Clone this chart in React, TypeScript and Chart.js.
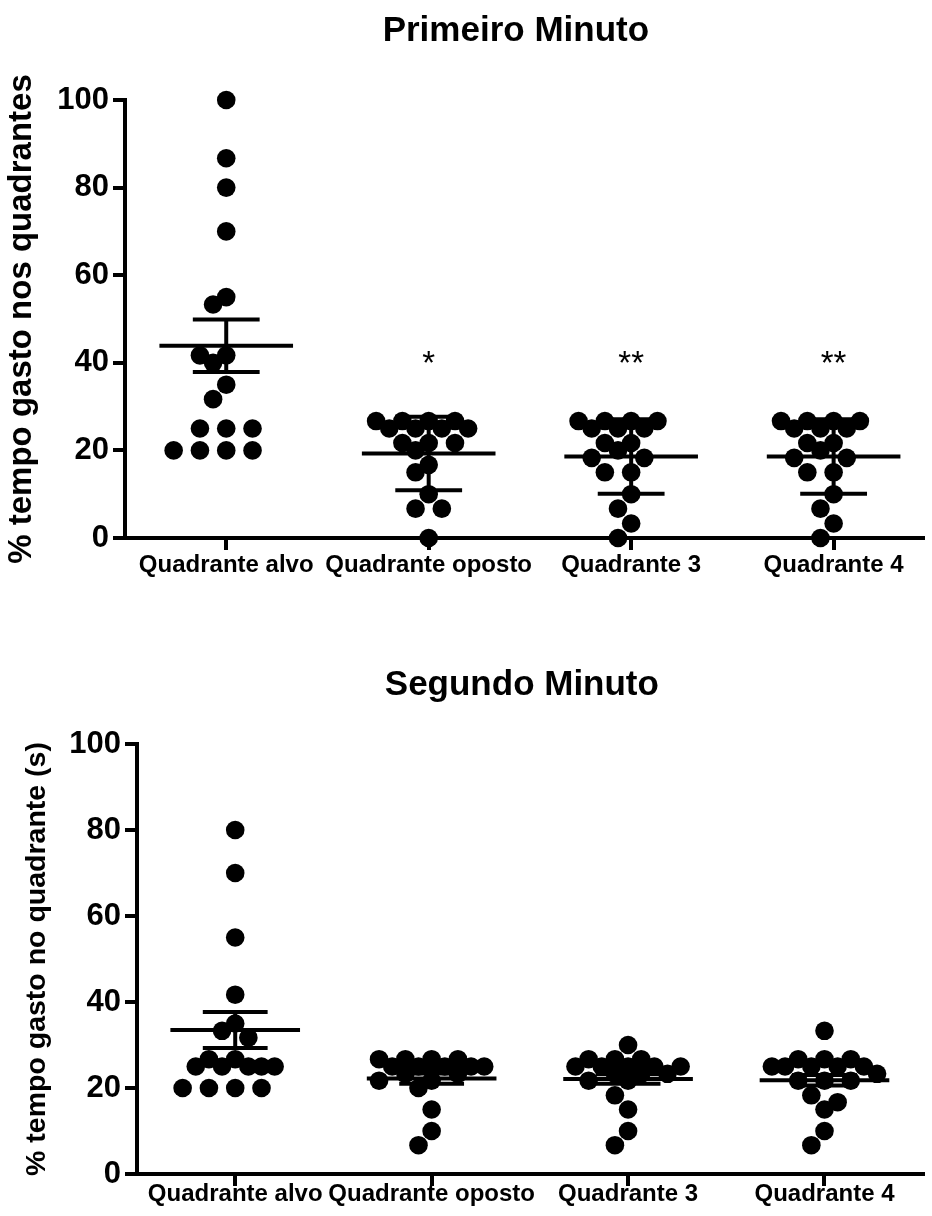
import React, { useEffect, useRef } from 'react';
import { Chart, registerables } from 'chart.js';

Chart.register(...registerables);

// ---------- data ----------
const CATEGORIES = ['Quadrante alvo', 'Quadrante oposto', 'Quadrante 3', 'Quadrante 4'];
const Y_TICKS = [0, 20, 40, 60, 80, 100];

// Primeiro minuto (% tempo gasto nos quadrantes)
const FIRST_ALVO = [100, 86.7, 80, 70, 55, 53.3, 41.7, 41.7, 40, 35, 31.7, 25, 25, 25, 20, 20, 20, 20];
const FIRST_OPOSTO = [26.7, 26.7, 26.7, 26.7, 25, 25, 25, 25, 21.7, 21.7, 21.7, 20, 16.7, 15, 10, 6.7, 6.7, 0];
const FIRST_Q3 = [26.7, 26.7, 26.7, 26.7, 25, 25, 25, 21.7, 21.7, 20, 18.3, 18.3, 15, 15, 10, 6.7, 3.3, 0];
const FIRST_Q4 = [26.7, 26.7, 26.7, 26.7, 25, 25, 25, 21.7, 21.7, 20, 18.3, 18.3, 15, 15, 10, 6.7, 3.3, 0];
const FIRST_MEAN = [43.9, 19.3, 18.6, 18.6];
const FIRST_ERR = [6.0, 8.4, 8.5, 8.5];
const FIRST_MARKS = ['', '*', '**', '**'];
const FIRST_MARK_Y = 41.7;

// Segundo minuto (% tempo gasto no quadrante (s))
const SECOND_ALVO = [80, 70, 55, 41.7, 35, 33.3, 31.7, 26.7, 26.7, 25, 25, 25, 25, 25, 20, 20, 20, 20];
const SECOND_OPOSTO = [26.7, 26.7, 26.7, 26.7, 25, 25, 25, 25, 25, 25, 23.3, 23.3, 21.7, 21.7, 20, 15, 10, 6.7];
const SECOND_Q3 = [30, 26.7, 26.7, 26.7, 25, 25, 25, 25, 25, 23.3, 23.3, 23.3, 21.7, 21.7, 18.3, 15, 10, 6.7];
const SECOND_Q4 = [33.3, 26.7, 26.7, 26.7, 25, 25, 25, 25, 25, 23.3, 21.7, 21.7, 21.7, 18.3, 16.7, 15, 10, 6.7];
const SECOND_MEAN = [33.5, 22.2, 22.1, 21.8];
const SECOND_ERR = [4.2, 1.2, 1.1, 1.2];

const FONT = '"Liberation Sans", Arial, sans-serif';

type Panel = {
  title: string;
  yTitle: string;
  groups: number[][];
  means: number[];
  errs: number[];
  marks: string[];
  markY: number;
  width: number;
  height: number;
  padTop: number;
  yAxisWidth: number;
  xAxisHeight: number;
  xMax: number;
  titleY: number;
  yTitleSize: number;
  yTitlePad: number;
  xLabelPad: number;
};

const PANELS: Panel[] = [
  {
    title: 'Primeiro Minuto',
    yTitle: '% tempo gasto nos quadrantes',
    groups: [FIRST_ALVO, FIRST_OPOSTO, FIRST_Q3, FIRST_Q4],
    means: FIRST_MEAN,
    errs: FIRST_ERR,
    marks: FIRST_MARKS,
    markY: FIRST_MARK_Y,
    width: 932,
    height: 600,
    padTop: 100,
    yAxisWidth: 125,
    xAxisHeight: 62,
    xMax: 3.44,
    titleY: 31,
    yTitleSize: 33,
    yTitlePad: 2,
    xLabelPad: 1,
  },
  {
    title: 'Segundo Minuto',
    yTitle: '% tempo gasto no quadrante (s)',
    groups: [SECOND_ALVO, SECOND_OPOSTO, SECOND_Q3, SECOND_Q4],
    means: SECOND_MEAN,
    errs: SECOND_ERR,
    marks: ['', '', '', ''],
    markY: 0,
    width: 932,
    height: 616,
    padTop: 144,
    yAxisWidth: 137,
    xAxisHeight: 42,
    xMax: 3.5,
    titleY: 85,
    yTitleSize: 28.5,
    yTitlePad: 20,
    xLabelPad: -6,
  },
];

// simple beeswarm: place each dot (largest value first) at the free lane closest to the centre;
// when the +-4 lanes are all crowded, take the lane with the most room
function swarmOffsets(values: number[], pxPerValue: number, pxPerCat: number): number[] {
  const lane = 13.3;
  const minDist = 15;
  const maxStep = 4;
  const order = values.map((_, i) => i).sort((a, b) => values[b] - values[a]);
  const placed: { x: number; y: number }[] = [];
  const res = new Array(values.length).fill(0);
  for (const i of order) {
    const y = values[i] * pxPerValue;
    let best = 0;
    let bestRoom = -1;
    let chosen: number | null = null;
    for (let k = 0; k <= maxStep * 2; k++) {
      const step = Math.ceil(k / 2) * (k % 2 === 1 ? -1 : 1);
      const x = step * lane;
      const room = placed.reduce((m, p) => Math.min(m, Math.hypot(p.x - x, p.y - y)), Infinity);
      if (room >= minDist) {
        chosen = x;
        break;
      }
      if (room > bestRoom + 0.5) {
        bestRoom = room;
        best = x;
      }
    }
    const x = chosen === null ? best : chosen;
    placed.push({ x, y });
    res[i] = x / pxPerCat;
  }
  return res;
}

const overlayPlugin = {
  id: 'overlay',
  afterDatasetsDraw(chart: any, _args: any, opts: any) {
    const { ctx, chartArea } = chart;
    const x = chart.scales.x;
    const y = chart.scales.y;
    ctx.save();
    ctx.strokeStyle = '#000';
    ctx.lineWidth = 4;
    ctx.lineCap = 'butt';
    const line = (x0: number, y0: number, x1: number, y1: number) => {
      ctx.beginPath();
      ctx.moveTo(x0, y0);
      ctx.lineTo(x1, y1);
      ctx.stroke();
    };
    (opts.means as number[]).forEach((m, i) => {
      const e = opts.errs[i];
      const yc = y.getPixelForValue(m);
      const yt = y.getPixelForValue(m + e);
      const yb = y.getPixelForValue(m - e);
      const xc = x.getPixelForValue(i);
      line(x.getPixelForValue(i - 0.33), yc, x.getPixelForValue(i + 0.33), yc);
      line(x.getPixelForValue(i - 0.165), yt, x.getPixelForValue(i + 0.165), yt);
      line(x.getPixelForValue(i - 0.165), yb, x.getPixelForValue(i + 0.165), yb);
      line(xc, yt, xc, yb);
    });
    // significance marks
    ctx.fillStyle = '#000';
    ctx.textAlign = 'center';
    ctx.textBaseline = 'alphabetic';
    const ms = 33;
    ctx.font = `${ms}px ${FONT}`;
    (opts.marks as string[]).forEach((t, i) => {
      if (!t) return;
      ctx.fillText(t, x.getPixelForValue(i), y.getPixelForValue(opts.markY) + 0.55 * ms);
    });
    // title
    ctx.font = `bold 35px ${FONT}`;
    ctx.textBaseline = 'middle';
    ctx.fillText(opts.title, (chartArea.left + chartArea.right) / 2 - 8, opts.titleY);
    ctx.restore();
  },
};

function PanelChart({ panel }: { panel: Panel }) {
  const ref = useRef<HTMLCanvasElement | null>(null);
  useEffect(() => {
    if (!ref.current) return;
    const plotH = panel.height - panel.padTop - panel.xAxisHeight;
    const plotW = panel.width - panel.yAxisWidth;
    const pxPerValue = plotH / 100;
    const pxPerCat = plotW / (panel.xMax + 0.5);
    const points = panel.groups.flatMap((vals, gi) => {
      const offs = swarmOffsets(vals, pxPerValue, pxPerCat);
      return vals.map((v, j) => ({ x: gi + offs[j], y: v }));
    });
    const gridOpts = {
      display: true,
      drawOnChartArea: false,
      drawTicks: true,
      tickLength: 12,
      tickWidth: 4,
      tickColor: '#000',
      color: '#000',
      lineWidth: 4,
    };
    const borderOpts = { display: true, width: 4, color: '#000' };
    const chart = new Chart(ref.current, {
      type: 'scatter',
      data: {
        datasets: [
          {
            data: points,
            pointRadius: 9.3,
            pointHoverRadius: 9.3,
            pointBackgroundColor: '#000',
            pointBorderColor: '#000',
            pointBorderWidth: 0,
            clip: false as any,
          },
        ],
      },
      options: {
        responsive: false,
        maintainAspectRatio: false,
        animation: false,
        events: [],
        layout: { padding: { top: panel.padTop, left: 0, right: 0, bottom: 0 } },
        plugins: {
          legend: { display: false },
          tooltip: { enabled: false },
          title: { display: false },
          overlay: {
            means: panel.means,
            errs: panel.errs,
            marks: panel.marks,
            markY: panel.markY,
            title: panel.title,
            titleY: panel.titleY,
          },
        } as any,
        scales: {
          x: {
            type: 'linear',
            min: -0.5,
            max: panel.xMax,
            afterBuildTicks: (s: any) => {
              s.ticks = CATEGORIES.map((_, i) => ({ value: i }));
            },
            afterFit: (s: any) => {
              s.height = panel.xAxisHeight;
            },
            ticks: {
              autoSkip: false,
              maxRotation: 0,
              minRotation: 0,
              padding: panel.xLabelPad,
              color: '#000',
              font: { family: FONT, size: 24, weight: 'bold' },
              callback: (_v: any, i: number) => CATEGORIES[i],
            },
            grid: gridOpts,
            border: borderOpts,
          },
          y: {
            type: 'linear',
            min: 0,
            max: 100,
            afterBuildTicks: (s: any) => {
              s.ticks = Y_TICKS.map((v) => ({ value: v }));
            },
            afterFit: (s: any) => {
              s.width = panel.yAxisWidth;
            },
            ticks: {
              padding: 4,
              color: '#000',
              font: { family: FONT, size: 31, weight: 'bold' },
              callback: (v: any) => String(v),
            },
            grid: gridOpts,
            border: borderOpts,
            title: {
              display: true,
              text: panel.yTitle,
              color: '#000',
              font: { family: FONT, size: panel.yTitleSize, weight: 'bold' },
              padding: { top: panel.yTitlePad, bottom: 0 },
            },
          },
        },
      } as any,
      plugins: [overlayPlugin],
    });
    return () => chart.destroy();
  }, [panel]);
  return (
    <canvas
      ref={ref}
      width={panel.width}
      height={panel.height}
      style={{ display: 'block', width: panel.width, height: panel.height }}
    />
  );
}

export default function App() {
  return (
    <div
      style={{
        position: 'absolute',
        left: 0,
        top: 0,
        width: 932,
        height: 1216,
        background: '#fff',
      }}
    >
      {PANELS.map((p) => (
        <PanelChart key={p.title} panel={p} />
      ))}
    </div>
  );
}
